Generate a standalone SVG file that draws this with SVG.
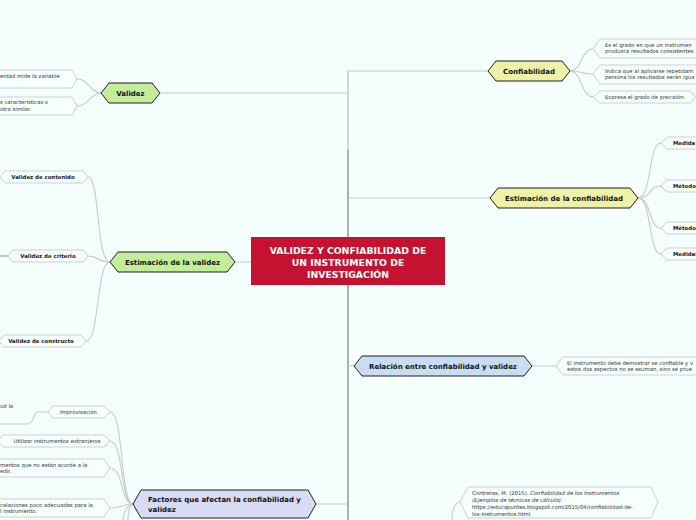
<svg xmlns="http://www.w3.org/2000/svg" width="696" height="520" viewBox="0 0 696 520">
<style>
.bg{fill:#f4fefc}
.main{stroke:#1e1e1e;stroke-width:1}
.green{fill:#c3ed9b}
.yellow{fill:#eef1a6}
.blue{fill:#c8ddf2}
.lav{fill:#d7dbf3}
.sub{fill:#f6fffd;stroke:#c9cccc;stroke-width:0.9}
.con{fill:none;stroke:#c6cbcb;stroke-width:1.1}
.trunk{fill:none;stroke:#a3a6a6;stroke-width:1.6}
.mt{font-family:"DejaVu Sans",Verdana,sans-serif;font-weight:bold;font-size:7px;fill:#111}
.ct{font-family:"DejaVu Sans",Verdana,sans-serif;font-weight:bold;font-size:9.3px;fill:#fff;text-anchor:middle}
.st{font-family:"DejaVu Sans",Verdana,sans-serif;font-size:5.3px;fill:#333}
.sb{font-family:"DejaVu Sans",Verdana,sans-serif;font-weight:bold;font-size:5.4px;fill:#222;text-anchor:middle}
</style>
<rect class="bg" x="0" y="0" width="696" height="520"/>

<g id="connectors">
  <path d="M348,71 L348,520" stroke="#c9cdcd" stroke-width="1.6" fill="none"/>
  <path class="trunk" d="M348,150 L348,237 M348,285 L348,520"/>
  <path class="con" d="M348,71 L488,71"/>
  <path class="con" d="M160,93 L348,93"/>
  <path class="con" d="M348,198 L490,198"/>
  <path class="con" d="M235,262 L251,262"/>
  <path class="con" d="M348,366 L354,366"/>
  <path class="con" d="M316,504 L348,504"/>
  <path class="con" d="M532,366 L556,366"/>
  <!-- Validez children -->
  <path class="con" d="M101,93 C90,93 89,79 77,79"/>
  <path class="con" d="M101,93 C90,93 89,106 77,106"/>
  <!-- Confiabilidad children -->
  <path class="con" d="M570,71 C582,71 581,49 593,49"/>
  <path class="con" d="M570,71 C582,71 581,74 593,74"/>
  <path class="con" d="M570,71 C582,71 581,97 593,97"/>
  <!-- Estimacion confiabilidad children -->
  <path class="con" d="M638,198 C652,198 648,143 661,143"/>
  <path class="con" d="M638,198 C652,198 648,186 661,186"/>
  <path class="con" d="M638,198 C652,198 648,228 661,228"/>
  <path class="con" d="M638,198 C652,198 648,254 661,254"/>
  <!-- Estimacion validez children -->
  <path class="con" d="M110,262 C96,262 100,177 88,177"/>
  <path class="con" d="M110,262 C96,262 100,256 88,256"/>
  <path class="con" d="M110,262 C96,262 100,341 86,341"/>
  <path d="M0,256 L8,256" stroke="#8a8d8d" stroke-width="1" fill="none"/>
  <!-- Factores children -->
  <path class="con" d="M133,504 C120,504 124,412 110,412"/>
  <path class="con" d="M133,504 C120,504 124,441 110,441"/>
  <path class="con" d="M133,504 C120,504 124,468 110,468"/>
  <path class="con" d="M133,504 C122,504 122,508 110,508"/>
  <path class="con" d="M133,504 C126,505 124,512 123,520"/>
  <path class="con" d="M133,504 C129,506 128,513 128,520"/>
  <path class="con" d="M48,412 L38,412 C33,412 34,424 28,424 L0,424"/>
  <!-- Contreras -->
  <path class="con" d="M452,520 C452,509 455,503 460,502"/>
</g>

<g id="central">
  <rect x="251" y="237" width="194" height="48" fill="#c41230"/>
  <text class="ct" x="348" y="254">VALIDEZ Y CONFIABILIDAD DE</text>
  <text class="ct" x="348" y="266">UN INSTRUMENTO DE</text>
  <text class="ct" x="348" y="278">INVESTIGACIÓN</text>
</g>

<g id="validez">
  <polygon class="main green" points="101,93 109,83 152,83 160,93 152,103 109,103"/>
  <text class="mt" x="130.5" y="95.5" text-anchor="middle">Validez</text>
</g>
<g id="validez-c1">
  <polygon class="sub" points="-6,70 72,70 77,79 72,88 -6,88"/>
  <text class="st" x="0" y="78">erdad mide la variable</text>
</g>
<g id="validez-c2">
  <polygon class="sub" points="-6,97 72,97 77,106 72,115 -6,115"/>
  <text class="st" x="0" y="104">s características o</text>
  <text class="st" x="0" y="111">otra similar.</text>
</g>

<g id="confiabilidad">
  <polygon class="main yellow" points="488,71 496,61 562,61 570,71 562,81 496,81"/>
  <text class="mt" x="529" y="73.5" text-anchor="middle">Confiabilidad</text>
</g>
<g id="conf-c1">
  <polygon class="sub" points="593,49 600,39 700,39 700,58 600,58"/>
  <text class="st" x="605" y="46.5">Es el grado en que un instrumen</text>
  <text class="st" x="605" y="53">produzca resultados consistentes</text>
</g>
<g id="conf-c2">
  <polygon class="sub" points="593,74 600,65 700,65 700,84 600,84"/>
  <text class="st" x="605" y="72.5">Indica que al aplicarse repetidam</text>
  <text class="st" x="605" y="79">persona los resultados serán igua</text>
</g>
<g id="conf-c3">
  <polygon class="sub" points="593,97 600,91 690,91 696,97 690,103 600,103"/>
  <text class="st" x="605" y="99">Expresa el grado de precisión.</text>
</g>

<g id="est-conf">
  <polygon class="main yellow" points="490,198 498,188 630,188 638,198 630,208 498,208"/>
  <text class="mt" x="564" y="200.5" text-anchor="middle">Estimación de la confiabilidad</text>
</g>
<g id="ec-c1">
  <polygon class="sub" points="661,143 667,137 700,137 700,149 667,149"/>
  <text class="sb" x="673" y="145" text-anchor="start" style="text-anchor:start">Medida</text>
</g>
<g id="ec-c2">
  <polygon class="sub" points="661,186 667,180 700,180 700,192 667,192"/>
  <text class="sb" x="673" y="188" style="text-anchor:start">Método</text>
</g>
<g id="ec-c3">
  <polygon class="sub" points="661,228 667,222 700,222 700,234 667,234"/>
  <text class="sb" x="673" y="230" style="text-anchor:start">Método</text>
</g>
<g id="ec-c4">
  <polygon class="sub" points="661,254 667,248 700,248 700,260 667,260"/>
  <text class="sb" x="673" y="256" style="text-anchor:start">Medidas</text>
</g>

<g id="est-val">
  <polygon class="main green" points="110,262 118,252 227,252 235,262 227,272 118,272"/>
  <text class="mt" x="172.5" y="264.5" text-anchor="middle">Estimación de la validez</text>
</g>
<g id="ev-c1">
  <polygon class="sub" points="0,177 5,171 83,171 88,177 83,183 5,183"/>
  <text class="sb" x="43" y="179">Validez de contenido</text>
</g>
<g id="ev-c2">
  <polygon class="sub" points="8,256 13,250 83,250 88,256 83,262 13,262"/>
  <text class="sb" x="48" y="258">Validez de criterio</text>
</g>
<g id="ev-c3">
  <polygon class="sub" points="-1,341 4,335 81,335 86,341 81,347 4,347"/>
  <text class="sb" x="41" y="343">Validez de constructo</text>
</g>

<g id="relacion">
  <polygon class="main blue" points="354,366 362,356 524,356 532,366 524,376 362,376"/>
  <text class="mt" x="443" y="368.5" text-anchor="middle">Relación entre confiabilidad y validez</text>
</g>
<g id="rel-c1">
  <polygon class="sub" points="556,366 563,357 700,357 700,375 563,375"/>
  <text class="st" x="567" y="364.5">El instrumento debe demostrar se confiable y v</text>
  <text class="st" x="567" y="371">estos dos aspectos no se asuman, sino se prue</text>
</g>

<g id="factores">
  <polygon class="main lav" points="133,504 141,490 308,490 316,504 308,518 141,518"/>
  <text class="mt" x="148" y="501.5">Factores que afectan la confiabilidad y</text>
  <text class="mt" x="148" y="512">validez</text>
</g>
<g id="fa-c1">
  <polygon class="sub" points="48,412 53,406 104,406 110,412 104,418 53,418"/>
  <text class="st" x="78.5" y="414" text-anchor="middle">Improvisación</text>
</g>
<g id="fa-c1a">
  <text class="st" x="0" y="408">ud la</text>
</g>
<g id="fa-c2">
  <polygon class="sub" points="-2,441 3,435 104,435 110,441 104,447 3,447"/>
  <text class="st" x="57" y="443" text-anchor="middle">Utilizar instrumentos extranjeros</text>
</g>
<g id="fa-c3">
  <polygon class="sub" points="-6,459 104,459 110,468 104,477 -6,477"/>
  <text class="st" x="0" y="466.5">mentos que no están acorde a la</text>
  <text class="st" x="0" y="473">edir.</text>
</g>
<g id="fa-c4">
  <polygon class="sub" points="-6,499 104,499 110,508 104,517 -6,517"/>
  <text class="st" x="0" y="506.5">calaciones poco adecuadas para la</text>
  <text class="st" x="0" y="513">l instrumento.</text>
</g>

<g id="contreras">
  <polygon class="sub" points="460,502 468,487 651,487 658,502 651,518 468,518"/>
  <text class="st" x="472" y="494.5">Contreras, M. (2015). <tspan font-style="italic">Confiabilidad de los Instrumentos</tspan></text>
  <text class="st" x="472" y="501.5" font-style="italic">(Ejemplos de técnicas de cálculo).</text>
  <text class="st" x="472" y="508.5">https://educapuntes.blogspot.com/2015/04/confiabilidad-de-</text>
  <text class="st" x="472" y="515.5">los-instrumentos.html</text>
</g>
</svg>
